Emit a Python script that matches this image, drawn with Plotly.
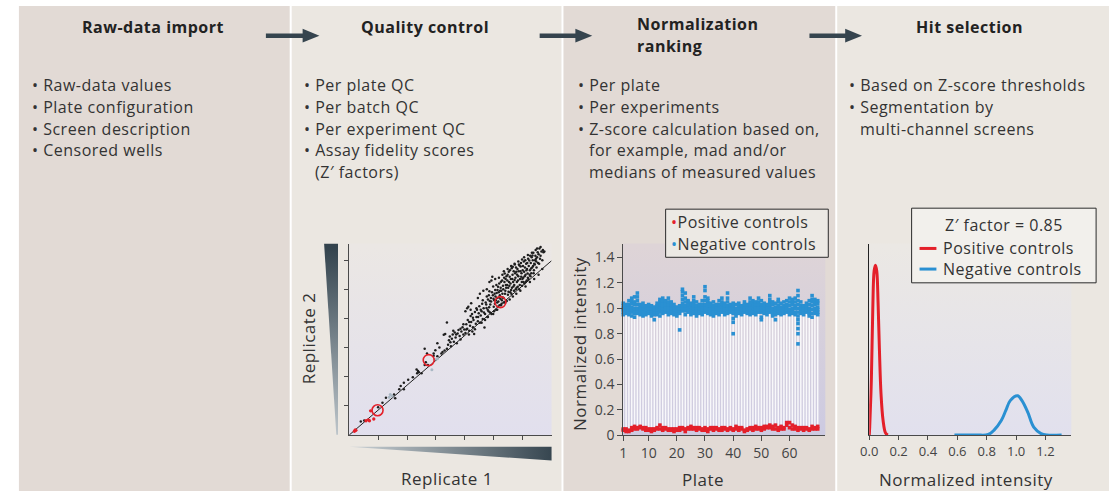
import plotly.graph_objects as go

W, H = 1109, 500

# ---------------- data: replicate scatter ----------------
rep_black_x = [0.40,0.52,1.00,1.15,1.27,1.55,1.59,1.73,1.78,1.89,1.89,2.04,2.20,2.33,2.35,2.38,2.41,2.50,
               2.61,2.69,2.61,2.72,2.65,2.92,2.98,2.92,3.05,3.12,3.05,3.19,3.23,3.27,3.32,3.30,3.38,3.38,
               3.42,3.45,3.48,3.52,3.55,3.58,3.62,3.65,3.68,3.72,3.75,3.78,3.82,3.85,3.88,3.92,3.95,3.98,3.60,3.50,
               4.02,4.05,4.08,4.10,4.12,4.15,4.18,4.20,4.22,4.25,4.28,4.30,4.32,4.35,4.38,4.40,4.42,4.45,4.48,4.50,
               4.52,4.55,4.58,4.60,4.62,4.65,4.68,4.70,4.22,4.35,
               4.72,4.75,4.78,4.80,4.82,4.85,4.88,4.90,4.92,4.95,4.97,5.00,5.02,5.05,5.08,5.10,5.12,5.15,5.18,5.20,
               5.22,5.25,5.28,5.30,5.32,4.76,4.86,4.98,5.06,5.14,5.24,4.84,5.17,5.27,5.04,
               5.34,5.36,5.38,5.40,5.42,5.45,5.47,5.49,5.50,5.52,5.55,5.57,5.58,5.60,5.62,5.64,5.66,5.68,5.70,5.72,
               5.74,5.76,5.78,5.80,5.83,5.85,5.87,5.89,5.90,5.92,5.95,5.97,6.00,5.44,5.53,5.63,5.73,5.82,5.94,5.98,
               6.02,6.04,6.06,6.08,6.10,6.12,6.14,6.17,6.19,6.20,6.23,6.25,6.27,6.29,6.31,6.34,6.36,6.38,6.40,6.43,
               6.46,6.48,6.52,6.55,6.57,6.60,6.65,6.72,6.15,6.45,
               4.55,4.62,4.66,4.74,4.79,4.83,4.87,4.91,4.94,4.99,5.01,5.03,5.07,5.09,5.11,5.13,5.16,5.19,5.21,5.23,
               5.26,5.29,5.31,5.33,5.35,5.37,5.39,5.41,5.43,5.46,5.48,5.51,5.54,5.56,5.59,5.61,5.65,5.67,5.69,5.71,
               5.75,5.77,5.79,5.81,5.84,5.86,5.88,5.91,5.93,5.96,5.99,6.01,6.03,6.05,6.07,6.09,6.11,6.13,6.16,6.18,
               6.21,6.24,6.26,6.28,6.30,6.33,6.35,6.37,6.39,6.42,6.44,6.47,6.50,6.53,6.58,6.62,6.68,6.70,
               4.46,4.40,4.28,4.15,4.05,3.95,3.85,3.70,
               4.02,4.08,4.14,4.20,4.26,4.45,4.52,4.58,4.64,4.70,4.76,4.80,4.85,4.92,4.98,5.05,5.12,5.18,5.25,5.30,
               5.35,5.40,5.48,5.55,5.60,5.66,5.72,5.78,5.85,5.92,5.98,6.05,6.10,6.18,6.25,6.32,6.40,6.50,6.55,6.62,
               6.68,6.75]
rep_black_y = [0.46,0.50,0.95,1.11,1.28,1.39,1.26,1.57,1.68,1.57,1.79,1.90,1.98,2.25,2.12,2.20,2.15,2.12,
               2.96,2.80,2.40,2.40,2.50,2.72,2.91,2.80,2.70,3.00,3.15,2.80,2.85,3.44,3.47,2.90,2.96,3.86,
               3.10,3.25,3.38,3.05,3.30,3.45,3.20,3.52,3.35,3.15,3.48,3.60,3.40,3.28,3.55,3.70,3.45,3.62,3.58,3.18,
               3.50,3.80,3.65,3.95,4.40,3.58,3.75,4.08,3.88,4.15,3.70,3.95,3.47,4.22,3.82,4.05,4.30,3.90,4.18,4.42,
               3.85,4.10,4.25,4.50,3.98,4.35,3.69,4.15,4.52,3.63,
               4.55,4.36,4.05,4.65,4.25,4.93,4.48,4.70,4.15,5.43,4.80,4.40,4.62,4.98,4.30,4.87,4.55,5.09,4.72,4.45,
               4.95,5.26,4.62,4.85,5.12,4.75,4.60,5.10,4.75,4.40,5.05,4.38,4.90,4.50,4.50,
               4.70,5.40,5.54,4.95,5.15,4.60,5.30,4.81,5.05,5.60,5.43,4.90,5.20,4.98,5.72,5.35,5.77,5.10,4.95,5.32,
               5.55,5.00,5.60,5.25,5.09,5.45,5.85,5.82,5.15,5.62,5.43,5.25,5.65,5.45,5.25,5.05,5.85,5.70,5.90,5.12,
               5.40,5.95,5.20,5.75,5.50,5.88,5.30,5.54,6.05,5.35,5.99,5.65,5.45,5.71,6.10,6.16,5.80,5.55,5.88,6.00,
               6.05,5.75,6.27,6.20,5.88,6.05,6.30,6.27,5.70,6.35,
               4.30,4.62,4.20,4.48,4.30,4.80,4.20,4.58,4.90,4.68,4.25,4.85,4.62,5.15,4.70,4.98,4.58,5.20,4.80,4.68,
               4.95,5.30,4.72,5.00,4.55,5.25,4.85,5.35,5.05,5.15,5.50,4.92,5.12,5.65,5.35,4.85,5.50,5.25,5.62,5.15,
               5.40,5.75,5.05,5.50,5.30,5.62,5.00,5.35,5.78,5.55,5.35,5.80,5.25,5.60,5.45,6.00,5.25,5.65,5.90,5.40,
               5.80,5.50,6.15,5.90,5.55,5.75,6.00,6.25,5.65,5.85,6.15,5.95,6.10,5.90,6.40,6.15,6.00,6.35,
               4.05,4.35,4.02,3.88,3.62,3.80,3.65,3.45,
               4.25,4.35,3.45,4.30,3.55,4.70,4.85,3.85,4.95,3.95,5.00,4.05,5.25,5.30,4.15,5.35,4.30,5.40,4.45,5.50,
               5.62,4.55,5.70,4.65,5.80,4.75,5.88,4.85,5.95,4.95,6.02,6.10,5.10,6.18,5.25,6.25,5.35,6.40,5.50,6.45,
               5.70,6.30]
rep_light_x = [1.38,1.42,1.48,2.86,2.95,3.05]
rep_light_y = [1.30,1.39,1.34,2.24,2.60,2.62]
rep_red_x = [0.18,0.21,0.23,0.58,0.70,0.85,0.74,0.66]
rep_red_y = [0.13,0.18,0.16,0.49,0.49,0.55,0.83,0.52]
circled_x = [0.98,2.75,5.23]
circled_y = [0.85,2.57,4.56]
fit_x = [0.0, 7.0]
fit_y = [0.0, 5.98]

# ---------------- data: normalized intensity per plate ----------------
neg_controls = [
    [0.95,0.97,0.99,1.00,1.02,1.04],[0.96,0.98,1.00,1.01,1.03],[0.95,0.97,0.99,1.01,1.03,1.06],
    [0.94,0.97,0.99,1.01,1.04,1.06,1.08],[0.93,0.96,0.98,1.00,1.03,1.05,1.09],[0.96,0.98,1.00,1.03,1.06,1.09,1.12],
    [0.95,0.97,0.99,1.01,1.03],[0.94,0.96,0.98,1.00,1.02,1.04],[0.95,0.97,0.99,1.01,1.02],
    [0.96,0.98,1.00,1.02,1.03],[0.94,0.96,0.98,1.00,1.02],[0.91,0.95,0.97,0.99,1.01],
    [0.95,0.97,0.99,1.01,1.02,1.04],[0.94,0.97,0.99,1.01,1.03,1.05,1.07],[0.96,0.98,1.00,1.02,1.04,1.06,1.08],
    [0.97,0.99,1.01,1.03,1.04,1.06],[0.95,0.97,0.99,1.01,1.03,1.05,1.08],[0.96,0.98,1.00,1.02,1.03,1.05],
    [0.95,0.97,0.99,1.01,1.03],[0.94,0.96,0.98,1.00,1.01],[0.83,0.96,0.98,1.00,1.02],
    [0.98,1.00,1.02,1.04,1.07,1.10,1.13,1.15],[0.95,0.98,1.00,1.02,1.05,1.08,1.12],[0.97,0.99,1.01,1.03,1.05,1.06],
    [0.95,0.97,0.99,1.01,1.03,1.04],[0.96,0.98,1.00,1.02,1.04,1.06,1.09],[0.94,0.96,0.98,1.00,1.02,1.05],
    [0.96,0.98,1.00,1.02,1.03],[0.95,0.97,0.99,1.01,1.03,1.06],[0.97,0.99,1.01,1.03,1.06,1.09,1.14,1.17],
    [0.96,0.98,1.00,1.02,1.04,1.06,1.08],[0.95,0.97,0.99,1.01,1.02,1.04],[0.94,0.96,0.98,1.00,1.02,1.05],
    [0.96,0.98,1.00,1.01,1.03],[0.95,0.97,0.99,1.01,1.03,1.06],[0.97,0.99,1.01,1.03,1.05,1.08],
    [0.95,0.97,0.99,1.01,1.02,1.04],[0.96,0.98,1.00,1.02,1.05,1.08,1.12],[0.97,0.99,1.00,1.02,1.03],
    [0.80,0.89,0.92,0.96,0.98,1.00,1.02,1.04],[0.94,0.96,0.98,1.00,1.03],[0.96,0.98,1.00,1.02,1.04],
    [0.95,0.97,0.99,1.01,1.02],[0.97,0.99,1.01,1.03,1.05],[0.96,0.98,1.00,1.01,1.03],
    [0.95,0.97,0.99,1.01,1.03,1.05,1.08],[0.96,0.98,1.00,1.02,1.04,1.06],[0.95,0.97,0.99,1.01,1.03,1.05],
    [0.97,0.99,1.01,1.03,1.05,1.08],[0.91,0.93,0.97,0.99,1.01,1.03,1.06],[0.96,0.98,1.00,1.02,1.04],
    [0.95,0.97,0.99,1.01,1.03],[0.97,0.99,1.01,1.03,1.05,1.07,1.10],[0.94,0.96,0.98,1.00,1.03,1.05],
    [0.91,0.95,0.97,0.99,1.01,1.04],[0.96,0.98,1.00,1.02,1.05,1.07],[0.95,0.97,0.99,1.01,1.04],
    [0.96,0.98,1.00,1.02,1.05],[0.97,0.99,1.01,1.03,1.06],[0.95,0.97,0.99,1.02,1.05,1.08],
    [0.96,0.98,1.00,1.03,1.05,1.07],[0.95,0.97,1.00,1.02,1.05,1.08],
    [0.72,0.80,0.84,0.88,0.91,0.94,0.97,1.00,1.03,1.06,1.10,1.14],
    [0.96,0.98,1.00,1.02,1.05],[0.95,0.97,0.99,1.01,1.02],[0.97,0.99,1.01,1.02,1.04],
    [0.94,0.96,0.98,1.00,1.03,1.06],[0.93,0.96,0.99,1.02,1.05,1.07,1.10],[0.96,0.98,1.00,1.03,1.05,1.07],
    [0.95,0.97,0.99,1.01,1.04,1.06],
]
pos_controls = [
    [0.04,0.05],[0.03,0.05],[0.03,0.04],[0.04,0.06],[0.05,0.07],
    [0.05,0.06],[0.06,0.07],[0.05,0.06],[0.04,0.06],[0.04,0.05],
    [0.03,0.05],[0.04,0.05],[0.05,0.06],[0.05,0.08],[0.04,0.06],
    [0.05,0.06],[0.04,0.05],[0.04,0.05],[0.03,0.05],[0.04,0.05],
    [0.04,0.06],[0.05,0.06],[0.03,0.05],[0.05,0.06],[0.05,0.07],
    [0.05,0.06],[0.04,0.06],[0.05,0.06],[0.04,0.05],[0.04,0.06],
    [0.03,0.05],[0.05,0.06],[0.04,0.06],[0.05,0.06],[0.04,0.05],
    [0.04,0.06],[0.05,0.06],[0.04,0.05],[0.05,0.06],[0.04,0.05],
    [0.05,0.07],[0.04,0.06],[0.05,0.06],[0.03,0.04],[0.04,0.05],
    [0.05,0.06],[0.04,0.06],[0.05,0.07],[0.05,0.06],[0.04,0.06],
    [0.05,0.07],[0.06,0.07],[0.06,0.08],[0.05,0.07],[0.05,0.08],
    [0.04,0.06],[0.05,0.07],[0.05,0.06],[0.08,0.10],[0.06,0.10],
    [0.05,0.08],[0.05,0.07],[0.04,0.06],[0.05,0.06],[0.04,0.06],
    [0.05,0.06],[0.04,0.05],[0.05,0.07],[0.05,0.06],[0.05,0.07],
]
plate_ticks = [1, 10, 20, 30, 40, 50, 60]
intensity_ticks = [0, 0.2, 0.4, 0.6, 0.8, 1.0, 1.2, 1.4]
intensity_ticktext = ["0", "0.2", "0.4", "0.6", "0.8", "1.0", "1.2", "1.4"]

# ---------------- data: control distributions ----------------
pos_dist_x = [0.0, 0.003, 0.014, 0.024, 0.033, 0.042, 0.051, 0.060, 0.069, 0.080, 0.094, 0.111, 0.127]
pos_dist_y = [0.0, 0.8, 5.5, 12.8, 16.7, 17.3, 16.7, 13.5, 8.8, 4.2, 1.5, 0.2, 0.0]
neg_dist_x = [0.58, 0.73, 0.81, 0.85, 0.90, 0.93, 0.96, 1.01, 1.04, 1.08, 1.12, 1.17, 1.21, 1.31]
neg_dist_y = [0.0, 0.0, 0.05, 0.5, 1.5, 2.5, 3.5, 4.0, 3.5, 2.3, 0.8, 0.15, 0.0, 0.0]
dist_ticks = [0.0, 0.2, 0.4, 0.6, 0.8, 1.0, 1.2]
dist_ticktext = ["0.0", "0.2", "0.4", "0.6", "0.8", "1.0", "1.2"]

# ---------------- text ----------------
titles = ["Raw-data import", "Quality control", "Normalization", "ranking", "Hit selection"]
bullets1 = ["• Raw-data values", "• Plate configuration", "• Screen description", "• Censored wells"]
bullets2 = ["• Per plate QC", "• Per batch QC", "• Per experiment QC", "• Assay fidelity scores", "  (Z′ factors)"]
bullets3 = ["• Per plate", "• Per experiments", "• Z-score calculation based on,",
            "  for example, mad and/or", "  medians of measured values"]
bullets4 = ["• Based on Z-score thresholds", "• Segmentation by", "  multi-channel screens"]

RED = "#e4202a"
BLUE = "#2a90d2"
DARK = "#35444e"
TXT = "#333333"
FONT = "Open Sans"
LS = "letter-spacing:0.5px"


def px(x):
    return x / W


def py(y):
    return 1 - y / H


fig = go.Figure()


def deco_poly(xs, ys, gtype, start, stop, cs):
    fig.add_trace(go.Scatter(x=xs + [xs[0]], y=ys + [ys[0]], mode="lines", fill="toself",
                             line=dict(width=0), hoverinfo="skip", showlegend=False,
                             fillgradient=dict(type=gtype, start=start, stop=stop, colorscale=cs),
                             xaxis="x", yaxis="y"))


# plot area backgrounds
deco_poly([343, 547, 547, 343], [248, 248, 443, 443], "vertical", 248, 443,
          [[0, "#ebe7e4"], [1, "#e1dfee"]])
deco_poly([619, 823, 823, 619], [248, 248, 443, 443], "vertical", 248, 443,
          [[0, "#ded4d7"], [1, "#cccae2"]])
deco_poly([867, 1071, 1071, 867], [248, 248, 443, 443], "vertical", 248, 443,
          [[0, "#ebe8e4"], [1, "#e1e0ee"]])
# wedge gradients along replicate axes
deco_poly([317.7, 331.7, 331.7, 330.0], [248.3, 248.3, 442.7, 442.7], "vertical", 248, 443,
          [[0, "#33434d"], [1, "#c3cbd0"]])
deco_poly([343, 547, 547], [455, 455, 469], "horizontal", 343, 547,
          [[0, "#c9d0d4"], [1, "#33434d"]])

# ---------------- chart 1: replicate scatter ----------------
fig.add_trace(go.Scatter(x=fit_x, y=fit_y, mode="lines", line=dict(color="#222222", width=1),
                         xaxis="x2", yaxis="y2", showlegend=False))
fig.add_trace(go.Scatter(x=rep_black_x, y=rep_black_y, mode="markers",
                         marker=dict(color="#1e1e1e", size=2.5),
                         xaxis="x2", yaxis="y2", showlegend=False))
fig.add_trace(go.Scatter(x=rep_light_x, y=rep_light_y, mode="markers",
                         marker=dict(color="#a9b8c4", size=3),
                         xaxis="x2", yaxis="y2", showlegend=False))
fig.add_trace(go.Scatter(x=rep_red_x, y=rep_red_y, mode="markers",
                         marker=dict(color=RED, size=3.3),
                         xaxis="x2", yaxis="y2", showlegend=False))
fig.add_trace(go.Scatter(x=circled_x, y=circled_y, mode="markers",
                         marker=dict(color="rgba(0,0,0,0)", size=11, line=dict(color=RED, width=1.6)),
                         xaxis="x2", yaxis="y2", showlegend=False))

# ---------------- chart 2: normalized intensity by plate ----------------
stripe_x, stripe_y = [], []
neg_x, neg_y, pos_x, pos_y = [], [], [], []
for i, (nv, pv) in enumerate(zip(neg_controls, pos_controls)):
    p = i + 1
    stripe_x += [p, p, None]
    stripe_y += [max(pv) + 0.015, min(v for v in nv if v > 0.9) - 0.01, None]
    neg_x += [p] * len(nv)
    neg_y += nv
    pos_x += [p] * len(pv)
    pos_y += pv
fig.add_trace(go.Scatter(x=stripe_x, y=stripe_y, mode="lines",
                         line=dict(color="rgba(255,255,255,0.85)", width=1.5),
                         xaxis="x3", yaxis="y3", showlegend=False, hoverinfo="skip"))
fig.add_trace(go.Scatter(x=neg_x, y=neg_y, mode="markers",
                         marker=dict(color=BLUE, size=3.6, symbol="square"),
                         xaxis="x3", yaxis="y3", showlegend=False, cliponaxis=False))
fig.add_trace(go.Scatter(x=pos_x, y=pos_y, mode="markers",
                         marker=dict(color=RED, size=3.6, symbol="square"),
                         xaxis="x3", yaxis="y3", showlegend=False, cliponaxis=False))

# ---------------- chart 3: distributions ----------------
fig.add_trace(go.Scatter(x=pos_dist_x, y=pos_dist_y, mode="lines", line=dict(color=RED, width=3, shape="spline"),
                         xaxis="x4", yaxis="y4", showlegend=False, cliponaxis=False))
fig.add_trace(go.Scatter(x=neg_dist_x, y=neg_dist_y, mode="lines", line=dict(color=BLUE, width=3, shape="spline"),
                         xaxis="x4", yaxis="y4", showlegend=False, cliponaxis=False))

hidden = dict(visible=False, showgrid=False, zeroline=False, fixedrange=True)
axcol = "#4a4a4a"
tickfont = dict(family=FONT, size=14, color="#444444")

fig.update_layout(
    width=W, height=H, margin=dict(l=0, r=0, t=0, b=0),
    paper_bgcolor="white", plot_bgcolor="rgba(0,0,0,0)",
    showlegend=False,
    xaxis=dict(domain=[0, 1], range=[0, W], **hidden),
    yaxis=dict(domain=[0, 1], range=[H, 0], **hidden),
    xaxis2=dict(domain=[px(343), px(547)], range=[0, 7], anchor="y2", showgrid=False, zeroline=False,
                showline=True, linecolor=axcol, linewidth=1, ticks="outside", ticklen=4, tickcolor=axcol,
                tickvals=[1, 2, 3, 4, 5, 6], showticklabels=False, fixedrange=True),
    yaxis2=dict(domain=[py(443), py(248)], range=[0, 6.57], anchor="x2", showgrid=False, zeroline=False,
                showline=True, linecolor=axcol, linewidth=1, ticks="outside", ticklen=4, tickcolor=axcol,
                tickvals=[1, 2, 3, 4, 5, 6], showticklabels=False, fixedrange=True),
    xaxis3=dict(domain=[px(619.3), px(823)], range=[1, 72.7], anchor="y3", showgrid=False, zeroline=False,
                showline=True, linecolor=axcol, linewidth=1, ticks="outside", ticklen=5, tickcolor=axcol,
                tickvals=plate_ticks, tickfont=tickfont, fixedrange=True),
    yaxis3=dict(domain=[py(443.3), py(248)], range=[0, 1.51], anchor="x3", showgrid=False, zeroline=False,
                showline=True, linecolor=axcol, linewidth=1, ticks="outside", ticklen=5, tickcolor=axcol,
                tickvals=intensity_ticks, ticktext=intensity_ticktext, tickfont=tickfont, fixedrange=True),
    xaxis4=dict(domain=[px(867.3), px(1071)], range=[0, 1.376], anchor="y4", showgrid=False, zeroline=False,
                showline=True, linecolor=axcol, linewidth=1, ticks="outside", ticklen=4, tickcolor=axcol,
                tickvals=dist_ticks, ticktext=dist_ticktext, tickfont=dict(family=FONT, size=13, color="#444444"),
                fixedrange=True),
    yaxis4=dict(domain=[py(443), py(248)], range=[0, 19.5], anchor="x4", showgrid=False, zeroline=False,
                showline=True, linecolor="#222222", linewidth=1, ticks="", showticklabels=False, fixedrange=True),
)

# panels
shapes = []
panel_specs = [(10, 283, "#e2dad5"), (285, 557, "#ebe7e1"), (559, 833, "#e2dad5"), (835, 1109, "#ebe7e1")]
for x0, x1, c in panel_specs:
    shapes.append(dict(type="rect", xref="paper", yref="paper", x0=px(x0), x1=px(x1), y0=0, y1=py(6),
                       fillcolor=c, line=dict(width=0), layer="below"))
# arrows
for x0, xh, xt in [(259, 296, 313), (535, 571, 588), (807, 843, 860)]:
    shapes.append(dict(type="rect", xref="paper", yref="paper", x0=px(x0), x1=px(xh + 1), y0=py(38.7), y1=py(34),
                       fillcolor=DARK, line=dict(width=0), layer="above"))
    shapes.append(dict(type="path", xref="paper", yref="paper",
                       path=f"M {px(xh)} {py(29.3)} L {px(xt)} {py(36.3)} L {px(xh)} {py(43.3)} Z",
                       fillcolor=DARK, line=dict(width=0), layer="above"))
# legend boxes
shapes.append(dict(type="rect", xref="paper", yref="paper", x0=px(662), x1=px(826), y0=py(262), y1=py(213),
                   fillcolor="#ece9e4", line=dict(color="#2b2b2b", width=1), layer="above"))
shapes.append(dict(type="rect", xref="paper", yref="paper", x0=px(910), x1=px(1096), y0=py(288), y1=py(212),
                   fillcolor="#f2f0ec", line=dict(color="#2b2b2b", width=1), layer="above"))
shapes.append(dict(type="line", xref="paper", yref="paper", x0=px(918), x1=px(935), y0=py(253), y1=py(253),
                   line=dict(color=RED, width=3), layer="above"))
shapes.append(dict(type="line", xref="paper", yref="paper", x0=px(918), x1=px(935), y0=py(274), y1=py(274),
                   line=dict(color=BLUE, width=3), layer="above"))
fig.update_layout(shapes=shapes)

ann = []


def text(x, y, s, size=16, color=TXT, xanchor="left", bold=False, angle=0, raw=False):
    body = s if raw else f"<span style='{LS}'>{s}</span>"
    ann.append(dict(x=px(x), y=py(y), xref="paper", yref="paper", text=body,
                    showarrow=False, xanchor=xanchor, yanchor="middle", textangle=angle, borderpad=0,
                    font=dict(family=FONT, size=size, color=color, weight=700 if bold else 400)))


text(145, 27, titles[0], color="#222222", xanchor="center", bold=True)
text(419, 27, titles[1], color="#222222", xanchor="center", bold=True)
text(632, 24, titles[2], color="#222222", bold=True)
text(632, 47, titles[3], color="#222222", bold=True)
text(968, 27, titles[4], color="#222222", xanchor="center", bold=True)

line_y = [87, 109, 131, 153, 175]
for (x0, items) in [(22, bullets1), (296, bullets2), (573, bullets3), (846, bullets4)]:
    for k, s in enumerate(items):
        if s.startswith("  "):
            text(x0 + 11, line_y[k], s.strip())
        else:
            text(x0, line_y[k], s)

# axis titles
text(302, 345, "Replicate 2", size=17, xanchor="center", angle=-90)
text(442, 487, "Replicate 1", size=17, xanchor="center")
text(575, 350, "Normalized intensity", size=17, xanchor="center", angle=-90)
text(700, 488, "Plate", size=17, xanchor="center")
text(965, 488, "Normalized intensity", size=17, xanchor="center")

# legends
text(666, 226, f"<span style='color:{RED};{LS}'>•</span><span style='{LS}'>Positive controls</span>", raw=True)
text(666, 248, f"<span style='color:{BLUE};{LS}'>•</span><span style='{LS}'>Negative controls</span>", raw=True)
text(1003, 229, "Z′ factor = 0.85", xanchor="center")
text(941, 253, "Positive controls")
text(941, 274, "Negative controls")

fig.update_layout(annotations=ann)

page_fix = (
    "var de=document.documentElement, b=document.body;"
    "de.style.margin='0';de.style.padding='0';de.style.overflow='hidden';de.style.height='500px';"
    "b.style.margin='0';b.style.padding='0';b.style.overflow='hidden';b.style.height='500px';"
    "var g=document.getElementById('{plot_id}');"
    "g.style.position='fixed';g.style.left='0px';g.style.top='0px';"
)
fig.write_html("out.html", config={"displayModeBar": False}, post_script=page_fix)
